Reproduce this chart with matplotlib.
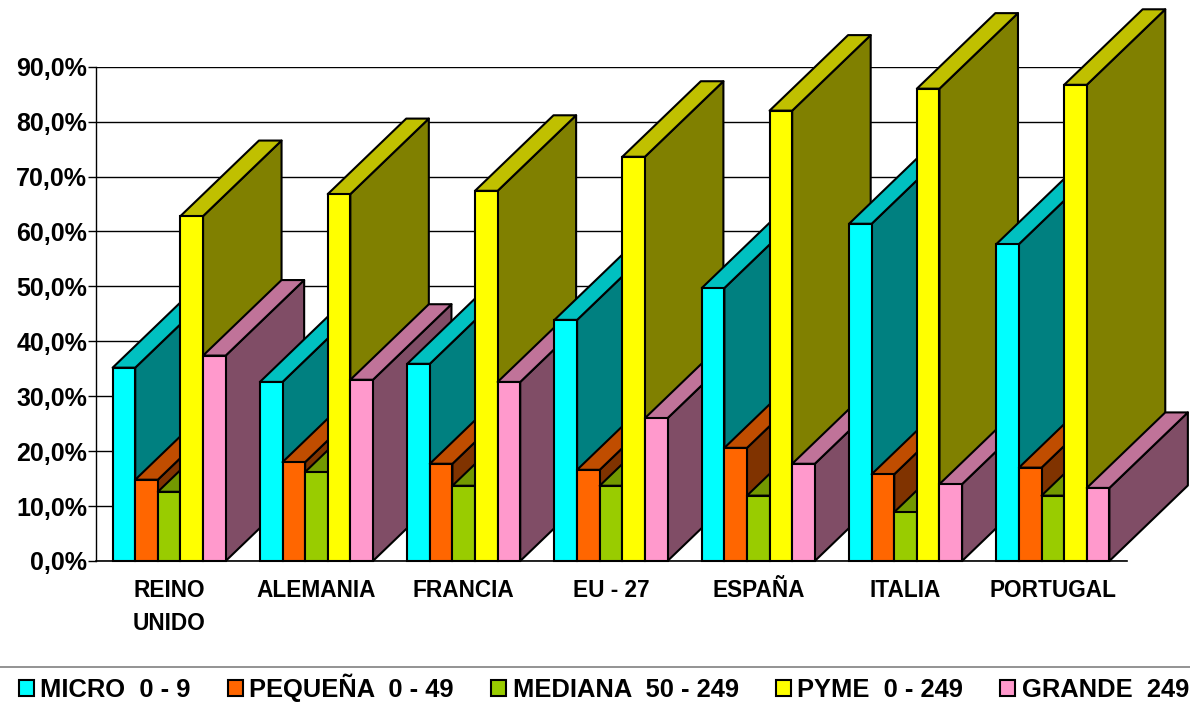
import numpy as np
import matplotlib
matplotlib.use("Agg")
import matplotlib.pyplot as plt
from matplotlib.lines import Line2D
from matplotlib.patches import Patch, Polygon

categories = ["REINO\nUNIDO", "ALEMANIA", "FRANCIA", "EU - 27", "ESPAÑA", "ITALIA", "PORTUGAL"]
micro = [35.2, 32.6, 35.9, 43.9, 49.7, 61.4, 57.7]
pequena = [14.8, 18.0, 17.7, 16.6, 20.6, 15.8, 17.0]
mediana = [12.6, 16.2, 13.7, 13.7, 11.9, 8.9, 11.9]
pyme = [62.8, 66.8, 67.4, 73.6, 82.0, 86.0, 86.7]
grande = [37.4, 33.0, 32.6, 26.0, 17.7, 14.0, 13.3]

series_names = ["MICRO  0 - 9", "PEQUEÑA  0 - 49", "MEDIANA  50 - 249", "PYME  0 - 249", "GRANDE  249"]
y_ticks = [0, 10, 20, 30, 40, 50, 60, 70, 80, 90]

# front, top, side
colors = [
    ("#00FFFF", "#00C0C0", "#008080"),
    ("#FF6600", "#C04D00", "#803300"),
    ("#99CC00", "#739900", "#4D6600"),
    ("#FFFF00", "#C0C000", "#808000"),
    ("#FF99CC", "#C07399", "#804D66"),
]

plt.rcParams["font.family"] = ["Liberation Sans", "DejaVu Sans"]
plt.rcParams["font.weight"] = "bold"

W, H = 1190, 710
fig = plt.figure(figsize=(W / 100, H / 100), dpi=100)
ax = fig.add_axes([95.5 / W, (H - 561) / H, (1126.5 - 95.5) / W, (561 - 66.7) / H])
ax.set_xlim(-0.5, 6.5)
ax.set_ylim(0, 90)
ax.set_axisbelow(True)

# depth of the fake 3d bars, in data units
bar_w = 0.1535
depth_x = 78.5 / 147.3
depth_y = 75.5 / 5.49
edge = 1.5

all_series = [micro, pequena, mediana, pyme, grande]
z = 3
for i in range(len(categories)):
    left = i - 2.5 * bar_w
    for j, values in enumerate(all_series):
        v = values[i]
        x0 = left + j * bar_w
        x1 = x0 + bar_w
        front, top, side = colors[j]
        ax.add_patch(Polygon([(x1, 0), (x1 + depth_x, depth_y), (x1 + depth_x, v + depth_y), (x1, v)],
                             facecolor=side, edgecolor="black", lw=edge, clip_on=False, zorder=z, joinstyle="round"))
        ax.add_patch(Polygon([(x0, v), (x0 + depth_x, v + depth_y), (x1 + depth_x, v + depth_y), (x1, v)],
                             facecolor=top, edgecolor="black", lw=edge, clip_on=False, zorder=z, joinstyle="round"))
        ax.bar(x0, v, bar_w, align="edge", color=front, edgecolor="black", lw=edge, clip_on=False, zorder=z)
        z += 1

ax.set_yticks(y_ticks)
ax.set_yticklabels([f"{t},0%" for t in y_ticks], fontsize=18, fontweight="bold")
ax.set_xticks(np.arange(len(categories)))
ax.set_xticklabels(categories, fontsize=16.3, fontweight="bold", linespacing=1.55)
ax.tick_params(axis="y", length=6, width=1, pad=0)
ax.tick_params(axis="x", length=0, pad=13.3)
ax.grid(axis="y", color="black", lw=1)

for s in ["top", "right"]:
    ax.spines[s].set_visible(False)
ax.spines["left"].set_linewidth(1)
ax.spines["bottom"].set_linewidth(1.2)

# legend sits under a thin gray rule
fig.add_artist(Line2D([0, 1], [(H - 667) / H] * 2, color="#808080", lw=1.2))
handles = [Patch(facecolor=c[0], edgecolor="black", lw=1.5) for c in colors]
fig.legend(handles, series_names, ncol=5, frameon=False,
           loc="lower left", bbox_to_anchor=(19 / W, (H - 702) / H),
           borderpad=0, borderaxespad=0, handlelength=0.58, handleheight=0.58,
           handletextpad=0.26, columnspacing=1.45, prop={"weight": "bold", "size": 18.4})

fig.savefig("out.png", dpi=100)
